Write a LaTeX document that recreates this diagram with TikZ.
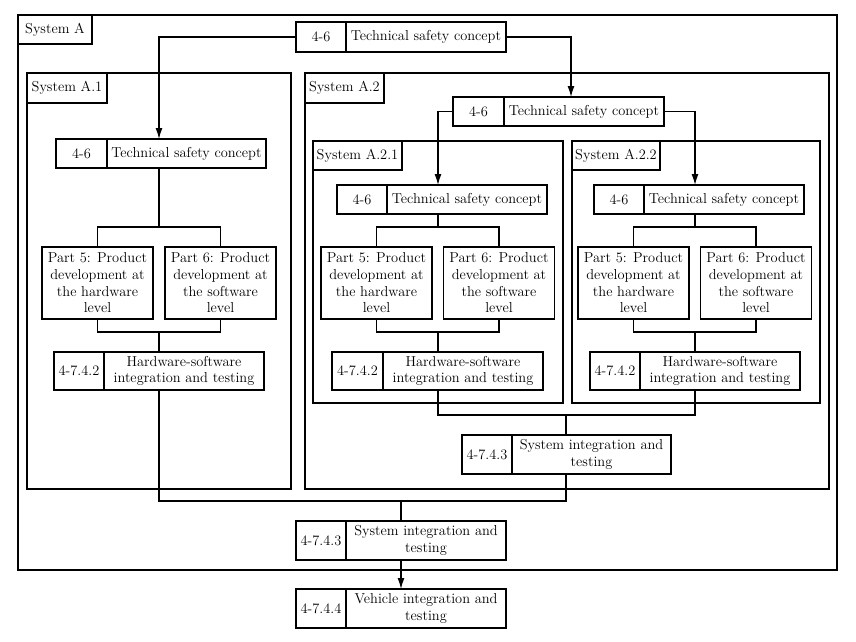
\documentclass[tikz,border=0pt]{standalone}
\usetikzlibrary{arrows.meta}
\newcommand\dfont{\fontsize{14.4}{16.7}\selectfont}
\begin{document}
\begin{tikzpicture}[x=1pt,y=-1pt,
  bx/.style={draw, rectangle, outer sep=0pt, inner sep=1pt, align=center, font=\dfont, line width=1.3pt},
  frame/.style={draw, line width=1.3pt},
  ln/.style={line width=1.3pt},
  arr/.style={line width=1.3pt, -{Latex[length=11pt,width=7pt]}}]
\useasboundingbox (0,0) rectangle (856,642);
% frames
\draw[frame] (18,15) rectangle (837,570);
\draw[frame] (27,73) rectangle (291,489);
\draw[frame] (305,73) rectangle (829,489);
\draw[frame] (313,141) rectangle (563,403);
\draw[frame] (572,141) rectangle (820,403);
% labels
\node[bx, minimum width=74, minimum height=29] (labA) at (55,29.5) {System A};
\node[bx, minimum width=80, minimum height=30] (lab1) at (67,88) {System A.1};
\node[bx, minimum width=79, minimum height=30] (lab2) at (344.5,88) {System A.2};
\node[bx, minimum width=89, minimum height=29] (lab21) at (357.5,155.5) {System A.2.1};
\node[bx, minimum width=88, minimum height=29] (lab22) at (616,155.5) {System A.2.2};
% top TSC
\node[bx, minimum width=50, minimum height=30] (tA-p) at (321,37) {4-6};
\node[bx, minimum width=160, minimum height=30] (tA-t) at (426,37) {Technical safety concept};
% A.1
\node[bx, minimum width=51, minimum height=29] (t1-p) at (81.5,153.5) {4-6};
\node[bx, minimum width=159, minimum height=29] (t1-t) at (186.5,153.5) {Technical safety concept};
\node[bx, minimum width=111, minimum height=72] (p5a) at (97.5,283) {Part 5: Product\\development at\\the hardware\\level};
\node[bx, minimum width=111, minimum height=72] (p6a) at (220.5,283) {Part 6: Product\\development at\\the software\\level};
\node[bx, minimum width=50, minimum height=38] (h1-p) at (79,371) {4-7.4.2};
\node[bx, minimum width=160, minimum height=38] (h1-t) at (184,371) {Hardware-software\\integration and testing};
% A.2
\node[bx, minimum width=51, minimum height=29] (t2-p) at (478.5,111.5) {4-6};
\node[bx, minimum width=160, minimum height=29] (t2-t) at (584,111.5) {Technical safety concept};
% A.2.1
\node[bx, minimum width=50, minimum height=29] (t21-p) at (362,199.5) {4-6};
\node[bx, minimum width=160, minimum height=29] (t21-t) at (467,199.5) {Technical safety concept};
\node[bx, minimum width=111, minimum height=72] (p5b) at (376.5,283) {Part 5: Product\\development at\\the hardware\\level};
\node[bx, minimum width=111, minimum height=72] (p6b) at (499,283) {Part 6: Product\\development at\\the software\\level};
\node[bx, minimum width=51, minimum height=38] (h21-p) at (357.5,371) {4-7.4.2};
\node[bx, minimum width=160, minimum height=38] (h21-t) at (463,371) {Hardware-software\\integration and testing};
% A.2.2
\node[bx, minimum width=50, minimum height=29] (t22-p) at (619,199.5) {4-6};
\node[bx, minimum width=160, minimum height=29] (t22-t) at (724,199.5) {Technical safety concept};
\node[bx, minimum width=111, minimum height=72] (p5c) at (633.5,283) {Part 5: Product\\development at\\the hardware\\level};
\node[bx, minimum width=111, minimum height=72] (p6c) at (756,283) {Part 6: Product\\development at\\the software\\level};
\node[bx, minimum width=50, minimum height=38] (h22-p) at (615,371) {4-7.4.2};
\node[bx, minimum width=160, minimum height=38] (h22-t) at (720,371) {Hardware-software\\integration and testing};
% A.2 system integration
\node[bx, minimum width=50, minimum height=39] (s2-p) at (487,454.5) {4-7.4.3};
\node[bx, minimum width=159, minimum height=39] (s2-t) at (591.5,454.5) {System integration and\\testing};
% A system integration
\node[bx, minimum width=50, minimum height=39] (s-p) at (321,540.5) {4-7.4.3};
\node[bx, minimum width=160, minimum height=39] (s-t) at (426,540.5) {System integration and\\testing};
% vehicle
\node[bx, minimum width=50, minimum height=39] (v-p) at (321,608.5) {4-7.4.4};
\node[bx, minimum width=160, minimum height=39] (v-t) at (426,608.5) {Vehicle integration and\\testing};
% helper coordinates
\coordinate (xa1) at (159,0);
\coordinate (xa2) at (571,0);
\coordinate (xa21) at (438,0);
\coordinate (xa22) at (695,0);
\coordinate (xs2) at (566,0);
\coordinate (xs) at (401,0);
\coordinate (ytop) at (0,227);
\coordinate (ybot) at (0,332);
\coordinate (yj2) at (0,415);
\coordinate (yj) at (0,501);
% arrows from TSC
\draw[arr] (tA-p.west) -| (xa1 |- t1-t.north);
\draw[arr] (tA-t.east) -| (xa2 |- t2-t.north);
\draw[arr] (t2-p.west) -| (xa21 |- t21-t.north);
\draw[arr] (t2-t.east) -| (xa22 |- t22-t.north);
% A.1 tree
\draw[ln] (xa1 |- t1-t.south) -- (xa1 |- ytop);
\draw[ln] (p5a.north) -- (p5a.north |- ytop) -- (p6a.north |- ytop) -- (p6a.north);
\draw[ln] (p5a.south) -- (p5a.south |- ybot) -- (p6a.south |- ybot) -- (p6a.south);
\draw[ln] (xa1 |- ybot) -- (xa1 |- h1-t.north);
% A.2.1 tree
\draw[ln] (xa21 |- t21-t.south) -- (xa21 |- ytop);
\draw[ln] (p5b.north) -- (p5b.north |- ytop) -- (p6b.north |- ytop) -- (p6b.north);
\draw[ln] (p5b.south) -- (p5b.south |- ybot) -- (p6b.south |- ybot) -- (p6b.south);
\draw[ln] (xa21 |- ybot) -- (xa21 |- h21-t.north);
% A.2.2 tree
\draw[ln] (xa22 |- t22-t.south) -- (xa22 |- ytop);
\draw[ln] (p5c.north) -- (p5c.north |- ytop) -- (p6c.north |- ytop) -- (p6c.north);
\draw[ln] (p5c.south) -- (p5c.south |- ybot) -- (p6c.south |- ybot) -- (p6c.south);
\draw[ln] (xa22 |- ybot) -- (xa22 |- h22-t.north);
% A.2 join
\draw[ln] (xa21 |- h21-t.south) -- (xa21 |- yj2) -- (xa22 |- yj2) -- (xa22 |- h22-t.south);
\draw[ln] (xs2 |- yj2) -- (xs2 |- s2-t.north);
% A join
\draw[ln] (xa1 |- h1-t.south) -- (xa1 |- yj) -- (xs2 |- yj) -- (xs2 |- s2-t.south);
\draw[ln] (xs |- yj) -- (xs |- s-t.north);
\draw[arr] (xs |- s-t.south) -- (xs |- v-t.north);
\end{tikzpicture}
\end{document}
